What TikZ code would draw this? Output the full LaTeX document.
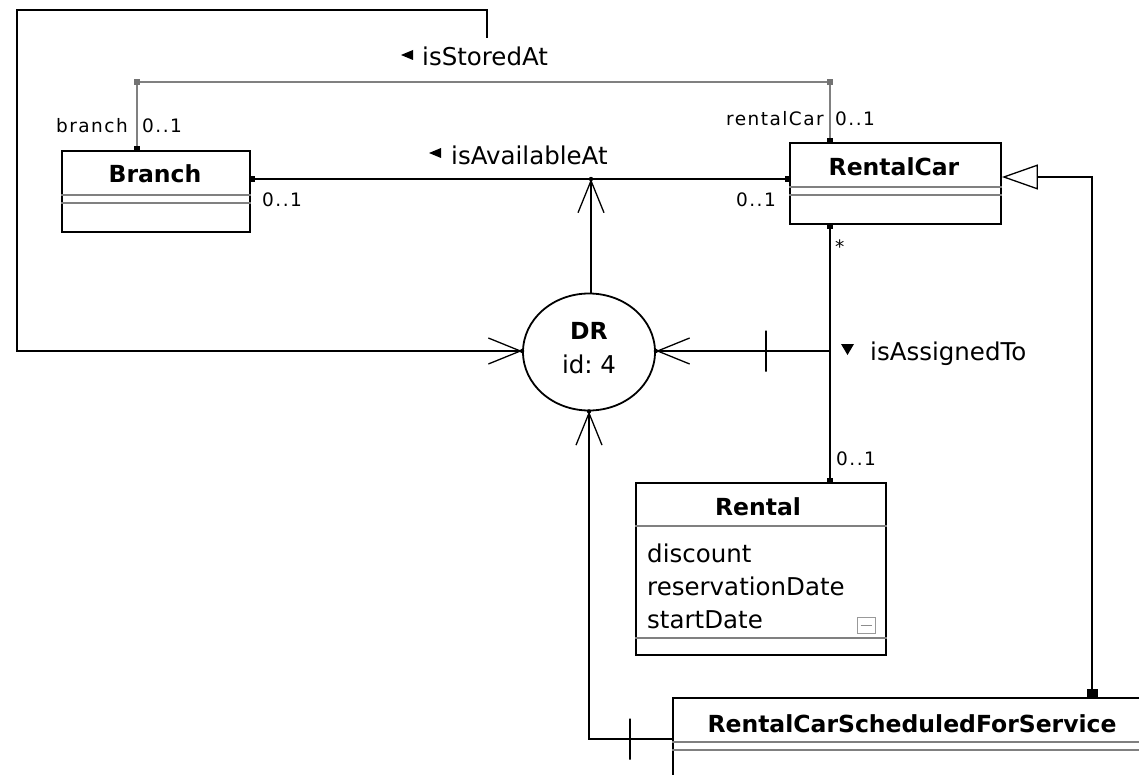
\documentclass[tikz,border=0pt]{standalone}
\usepackage{fontspec}
\setmainfont{DejaVu Sans}
\newfontfamily\lblfont[LetterSpace=8]{DejaVu Sans}
\usetikzlibrary{arrows.meta,shapes.geometric,calc}
\frenchspacing
\begin{document}
\begin{tikzpicture}[x=1pt,y=-1pt,
  box/.style={draw, line width=1.8pt, inner sep=0pt},
  conn/.style={line width=1.8pt},
  grayconn/.style={line width=1.7pt, draw=black!50},
  sepline/.style={draw=black!50, line width=1.5pt},
  crow/.style={conn, -{Straight Barb[length=32pt,width=26pt,line width=1.3pt]}},
  endsq/.style={{Square[length=4pt,width=6pt,color=black]}-{Square[length=4pt,width=6pt,color=black]}},
  tickbar/.style={draw, line width=1.8pt, minimum width=0pt, minimum height=41pt, inner sep=0pt},
  title/.style={font=\fontsize{23.5}{26}\selectfont\bfseries, inner sep=0pt, anchor=base},
  txt/.style={font=\fontsize{24.5}{28}\selectfont, inner sep=0pt},
  mult/.style={font=\lblfont\fontsize{18.5}{20}\selectfont, inner sep=0pt},
]
\useasboundingbox (0,0) rectangle (1139,775);
\clip (0,0) rectangle (1139,775);
\fill[white] (0,0) rectangle (1139,775);

% classes
\node[box, minimum width=188pt, minimum height=81pt] (branch) at (156,191.5) {};
\node[box, minimum width=211pt, minimum height=81pt] (rentalcar) at (895.5,183.5) {};
\node[box, minimum width=250pt, minimum height=172pt] (rental) at (761,569) {};
\node[box, minimum width=520pt, minimum height=120pt, anchor=north west] (rcsfs) at (672,697) {};
\node[draw, ellipse, line width=1.8pt, minimum width=132pt, minimum height=117pt, inner sep=0pt] (dr) at (589,352) {};

% titles
\node[title] (branchT) at (155,183) {Branch};
\node[title] (rentalcarT) at (894,176) {RentalCar};
\node[title] (rentalT) at (758,515) {Rental};
\node[title] (rcsfsT) at (912,732) {RentalCarScheduledForService};
\node[title] (drT) at (589,339) {DR};
\node[txt, anchor=base] (drid) at (589,373) {id: 4};

% compartments
\draw[sepline] ($(branch.north west)+(0,45)$) -- ($(branch.north east)+(0,45)$);
\draw[sepline] ($(branch.north west)+(0,53)$) -- ($(branch.north east)+(0,53)$);
\draw[sepline] ($(rentalcar.north west)+(0,45)$) -- ($(rentalcar.north east)+(0,45)$);
\draw[sepline] ($(rentalcar.north west)+(0,53)$) -- ($(rentalcar.north east)+(0,53)$);
\draw[sepline] ($(rental.north west)+(0,44)$) -- ($(rental.north east)+(0,44)$);
\draw[sepline] ($(rental.north west)+(0,156)$) -- ($(rental.north east)+(0,156)$);
\draw[sepline] ($(rcsfs.north west)+(0,45)$) -- ($(rcsfs.north east)+(0,45)$);
\draw[sepline] ($(rcsfs.north west)+(0,53)$) -- ($(rcsfs.north east)+(0,53)$);

% attributes
\node[txt, anchor=base west] (a1) at (647,562) {discount};
\node[txt, anchor=base west] (a2) at (647,595) {reservationDate};
\node[txt, anchor=base west] (a3) at (647,628) {startDate};
\node[draw=black!40, line width=1pt, minimum width=18pt, minimum height=16pt, inner sep=0pt] (collapse) at (866,625) {};
\draw[black!45, line width=1pt] ($(collapse.west)+(4,0)$) -- ($(collapse.east)+(-4,0)$);

% isStoredAt association
\coordinate (sa1) at (137,82);
\coordinate (sa2) at (830,82);
\draw[grayconn, endsq] (branch.north -| sa1) -- (sa1) -- (sa2) -- (rentalcar.north -| sa2);
\fill[black!55] ($(sa1)+(-3,-3)$) rectangle ($(sa1)+(3,3)$);
\fill[black!55] ($(sa2)+(-3,-3)$) rectangle ($(sa2)+(3,3)$);
\node[mult, anchor=base east] (brRole) at (128,133) {branch};
\node[mult, anchor=base west] (brMult) at (142,133) {0..1};
\node[mult, anchor=base east] (rcRole) at (824,126) {rentalCar};
\node[mult, anchor=base west] (rcMult) at (835,126) {0..1};
\fill (413,50) -- (413,60) -- (401,55) -- cycle;
\node[txt, anchor=base west] (storedLbl) at (422,66) {isStoredAt};

% isAvailableAt association
\coordinate (av) at (591,179);
\draw[conn, endsq] (branch.east |- av) -- (rentalcar.west |- av);
\node[mult, anchor=base west] (avMult1) at (262,207) {0..1};
\node[mult, anchor=base east] (avMult2) at (776,207) {0..1};
\fill (441,148) -- (441,158) -- (429,153) -- cycle;
\node[txt, anchor=base west] (availLbl) at (451,165) {isAvailableAt};

% DR links
\draw[crow] (dr.north -| av) -- (av);
\fill (av) circle (2.2);

\coordinate (lp0) at (487,38);
\coordinate (lp1) at (487,10);
\coordinate (lp2) at (17,10);
\coordinate (lp3) at (17,351);
\draw[crow] (lp0) -- (lp1) -- (lp2) -- (lp3) -- (dr.west |- lp3);
\fill (dr.west |- lp3) circle (2.2);

% isAssignedTo association
\coordinate (asg) at (830,351);
\draw[conn, endsq] (rentalcar.south -| asg) -- (rental.north -| asg);
\node[mult, anchor=base west] (starLbl) at (835,254) {*};
\node[mult, anchor=base west] (rtMult) at (836,465) {0..1};
\draw[crow] (asg) -- node[tickbar, pos=0.366] (tick1) {} (dr.east |- asg);
\fill (dr.east |- asg) circle (2.2);
\fill (841,344) -- (854,344) -- (847.5,355) -- cycle;
\node[txt, anchor=base west] (assignLbl) at (870,360) {isAssignedTo};

% RentalCarScheduledForService to DR
\draw[crow] ($(rcsfs.north west)+(0,42)$) -| node[tickbar, pos=0.253] (tick2) {} (dr.south);
\fill (dr.south) circle (2.2);

% generalization
\coordinate (gc) at (1092,177);
\draw[conn, {Square[length=8pt,width=11pt]}-{Triangle[open,length=36pt,width=25pt,line width=1.3pt]}] (rcsfs.north -| gc) -- (gc) -- (rentalcar.east |- gc);
\end{tikzpicture}
\end{document}
